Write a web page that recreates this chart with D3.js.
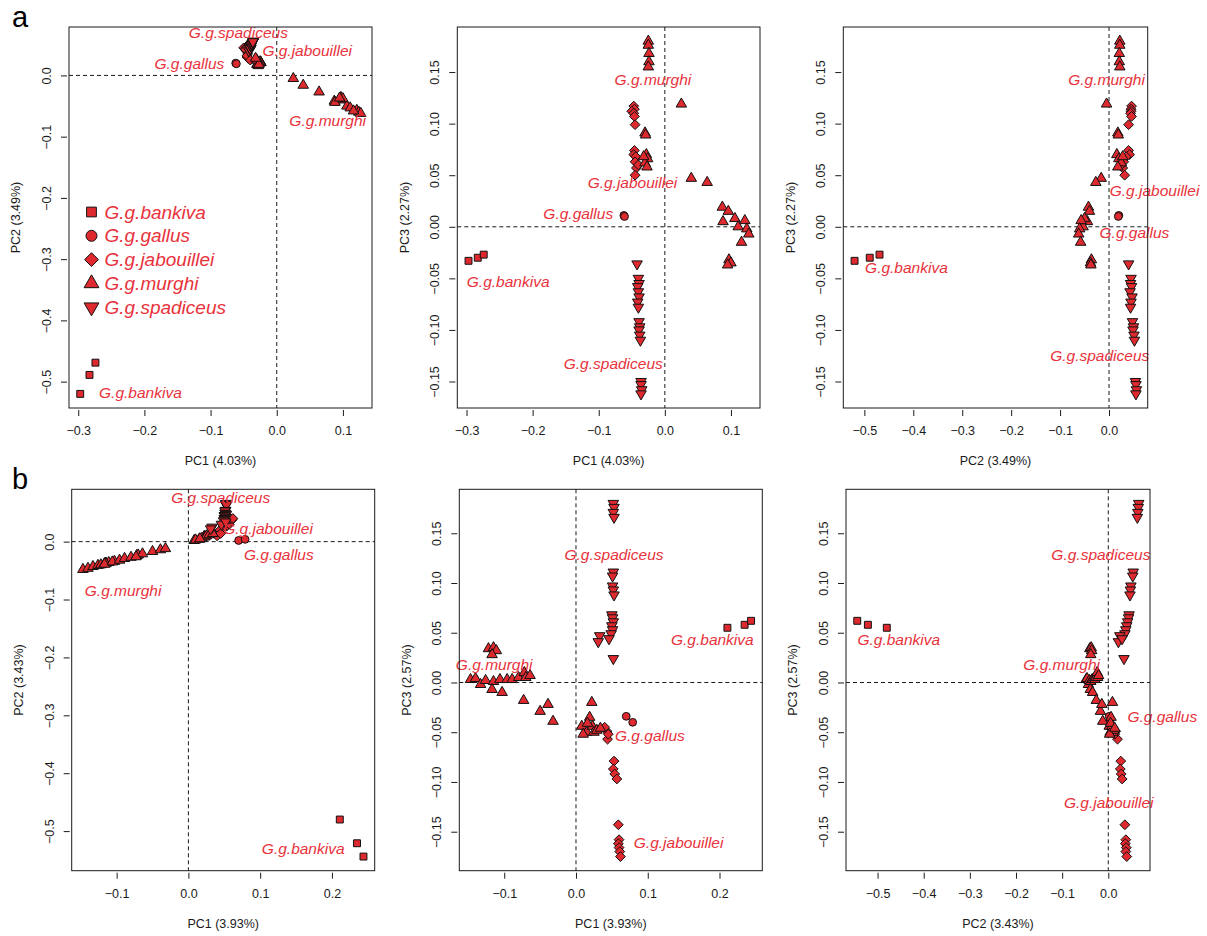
<!DOCTYPE html>
<html>
<head>
<meta charset="utf-8">
<script src="https://cdn.jsdelivr.net/npm/d3@7"></script>
<style>
  body { margin: 0; background: #fff; }
  svg { display: block; }
</style>
</head>
<body>
<svg id="fig" width="1207" height="936"></svg>
<script>
// Subspecies, in legend order, and the plotting symbol used for each
const subspecies = ["G.g.bankiva", "G.g.gallus", "G.g.jabouillei", "G.g.murghi", "G.g.spadiceus"];
const symbolNames = ["square", "circle", "diamond", "triangle", "triangleDown"];

// Analysis a: per-sample scores [PC1, PC2, PC3]
const bankivaA = [[-0.297, -0.520, -0.033], [-0.283, -0.489, -0.030], [-0.274, -0.469, -0.027]];
const gallusA = [[-0.062, 0.020, 0.011], [-0.061, 0.019, 0.010]];
const jabouilleiA = [
  [-0.047, 0.046, 0.117], [-0.046, 0.045, 0.114], [-0.050, 0.045, 0.112], [-0.047, 0.044, 0.110],
  [-0.046, 0.046, 0.107], [-0.045, 0.040, 0.099], [-0.046, 0.040, 0.074], [-0.047, 0.042, 0.070],
  [-0.044, 0.035, 0.068], [-0.045, 0.030, 0.063], [-0.043, 0.028, 0.057], [-0.045, 0.032, 0.050],
  [-0.040, 0.025, 0.060]
];
const murghiA = [
  [-0.025, 0.022, 0.180], [-0.025, 0.022, 0.176], [-0.024, 0.021, 0.168], [-0.024, 0.021, 0.160],
  [-0.025, 0.022, 0.155], [-0.030, 0.018, 0.091], [-0.029, 0.019, 0.089], [-0.028, 0.016, 0.070],
  [-0.026, 0.020, 0.066], [-0.030, 0.025, 0.062], [-0.027, 0.018, 0.058], [-0.032, 0.028, 0.068],
  [0.025, -0.005, 0.119], [0.040, -0.016, 0.047], [0.064, -0.027, 0.043],
  [0.087, -0.042, 0.019], [0.096, -0.040, 0.015], [0.088, -0.044, 0.005], [0.106, -0.050, 0.008],
  [0.111, -0.053, 0.000], [0.121, -0.057, 0.006], [0.124, -0.060, -0.002], [0.127, -0.062, -0.007],
  [0.116, -0.058, -0.015], [0.097, -0.036, -0.032], [0.100, -0.038, -0.035], [0.095, -0.037, -0.037]
];
const spadiceusA = [
  [-0.042, 0.040, -0.036], [-0.040, 0.045, -0.050], [-0.039, 0.044, -0.055], [-0.041, 0.046, -0.058],
  [-0.040, 0.043, -0.063], [-0.039, 0.047, -0.068], [-0.041, 0.045, -0.073], [-0.040, 0.044, -0.078],
  [-0.039, 0.048, -0.092], [-0.038, 0.050, -0.097], [-0.039, 0.049, -0.100], [-0.038, 0.051, -0.105],
  [-0.037, 0.052, -0.110], [-0.036, 0.054, -0.150], [-0.036, 0.055, -0.153], [-0.035, 0.056, -0.158],
  [-0.036, 0.055, -0.162]
];

// Analysis b: per-sample scores [PC1, PC2, PC3]
const bankivaB = [[0.211, -0.480, 0.055], [0.235, -0.521, 0.058], [0.244, -0.544, 0.062]];
const gallusB = [[0.070, 0.002, -0.034], [0.079, 0.004, -0.040]];
const jabouilleiB = [
  [0.043, 0.016, -0.049], [0.044, 0.020, -0.057], [0.040, 0.010, -0.045], [0.045, 0.014, -0.052],
  [0.053, 0.027, -0.079], [0.052, 0.026, -0.087], [0.054, 0.028, -0.092], [0.057, 0.030, -0.097],
  [0.059, 0.036, -0.143], [0.060, 0.038, -0.158], [0.059, 0.037, -0.162], [0.060, 0.039, -0.166],
  [0.061, 0.038, -0.170], [0.062, 0.040, -0.175]
];
const murghiB = [
  [-0.147, -0.048, 0.003], [-0.140, -0.046, 0.004], [-0.133, -0.043, -0.002], [-0.126, -0.041, 0.002],
  [-0.122, -0.040, 0.034], [-0.115, -0.037, 0.035], [-0.111, -0.036, 0.032], [-0.117, -0.038, 0.028],
  [-0.115, -0.038, 0.001], [-0.117, -0.039, -0.007], [-0.103, -0.034, -0.010], [-0.106, -0.035, 0.003],
  [-0.096, -0.032, 0.003], [-0.089, -0.029, 0.003], [-0.080, -0.027, 0.005], [-0.072, -0.024, 0.010],
  [-0.070, -0.023, 0.005], [-0.064, -0.021, 0.007], [-0.073, -0.026, -0.018], [-0.050, -0.017, -0.029],
  [-0.039, -0.014, -0.022], [-0.032, -0.012, -0.039],
  [0.022, 0.009, -0.020], [0.008, 0.002, -0.044], [0.015, 0.004, -0.050], [0.019, 0.006, -0.035],
  [0.023, 0.008, -0.044], [0.025, 0.010, -0.050], [0.029, 0.012, -0.048], [0.010, 0.003, -0.052],
  [0.016, 0.005, -0.041], [0.034, 0.014, -0.046]
];
const spadiceusB = [
  [0.052, 0.066, 0.180], [0.053, 0.065, 0.176], [0.052, 0.064, 0.171], [0.053, 0.063, 0.166],
  [0.052, 0.054, 0.111], [0.051, 0.053, 0.107], [0.051, 0.049, 0.097], [0.052, 0.048, 0.093],
  [0.053, 0.047, 0.088], [0.050, 0.045, 0.068], [0.051, 0.044, 0.065], [0.052, 0.042, 0.061],
  [0.050, 0.040, 0.057], [0.051, 0.038, 0.053], [0.049, 0.036, 0.049], [0.033, 0.025, 0.047],
  [0.031, 0.022, 0.041], [0.046, 0.030, 0.044], [0.052, 0.034, 0.024]
];

// Percentage of variance explained by PC1..PC3
const explainedA = [4.03, 3.49, 2.27];
const explainedB = [3.93, 3.43, 2.57];

// Axis tick values
const ticksPC1a = [-0.3, -0.2, -0.1, 0, 0.1];
const ticksPC2a = [-0.5, -0.4, -0.3, -0.2, -0.1, 0];
const ticksPC3a = [-0.15, -0.10, -0.05, 0, 0.05, 0.10, 0.15];
const ticksPC1b = [-0.1, 0, 0.1, 0.2];
const ticksPC2b = [-0.5, -0.4, -0.3, -0.2, -0.1, 0];
const ticksPC3b = [-0.15, -0.10, -0.05, 0, 0.05, 0.10, 0.15];

// Group label anchors in data units, one [x, y] per subspecies (legend order)
const labelsA12 = [[-0.206, -0.518], [-0.132, 0.020], [0.046, 0.040], [0.077, -0.073], [-0.058, 0.070]];
const labelsA13 = [[-0.237, -0.053], [-0.131, 0.013], [-0.049, 0.043], [-0.018, 0.143], [-0.078, -0.133]];
const labelsA23 = [[-0.414, -0.040], [0.052, -0.006], [0.093, 0.035], [-0.005, 0.143], [-0.019, -0.125]];
const labelsB12 = [[0.160, -0.530], [0.126, -0.022], [0.111, 0.022], [-0.091, -0.085], [0.045, 0.076]];
const labelsB13 = [[0.190, 0.043], [0.103, -0.053], [0.143, -0.161], [-0.114, 0.018], [0.053, 0.129]];
const labelsB23 = [[-0.454, 0.043], [0.117, -0.034], [0.001, -0.121], [-0.101, 0.018], [-0.016, 0.129]];

// ---------------------------------------------------------------------------
const analyses = {
  a: { groups: [bankivaA, gallusA, jabouilleiA, murghiA, spadiceusA], explained: explainedA,
       ticks: [ticksPC1a, ticksPC2a, ticksPC3a] },
  b: { groups: [bankivaB, gallusB, jabouilleiB, murghiB, spadiceusB], explained: explainedB,
       ticks: [ticksPC1b, ticksPC2b, ticksPC3b] }
};

const panels = [
  { set: "a", xi: 0, yi: 1, box: { l: 69, r: 372, t: 27, b: 408 }, labels: labelsA12, legend: true },
  { set: "a", xi: 0, yi: 2, box: { l: 457.3, r: 760, t: 27, b: 408 }, labels: labelsA13 },
  { set: "a", xi: 1, yi: 2, box: { l: 843.3, r: 1147.7, t: 27, b: 408 }, labels: labelsA23 },
  { set: "b", xi: 0, yi: 1, box: { l: 71.7, r: 374.7, t: 489.3, b: 870.7 }, labels: labelsB12 },
  { set: "b", xi: 0, yi: 2, box: { l: 459.3, r: 762.3, t: 489.3, b: 870.7 }, labels: labelsB13 },
  { set: "b", xi: 1, yi: 2, box: { l: 846, r: 1150, t: 489.3, b: 870.7 }, labels: labelsB23 }
];

const FONT = "'Liberation Sans', Arial, Helvetica, sans-serif";
const MARK_FILL = "#de2a2f";
const LABEL_RED = "#e8323c";
const INK = "#1a1a1a";

const svg = d3.select("#fig").style("font-family", FONT);

// Plot symbols with R-like proportions (filled square, circle, diamond, up/down triangles)
function symbolPath(type, s) {
  switch (type) {
    case "square": { const h = s * 0.8862; return `M${-h},${-h}H${h}V${h}H${-h}Z`; }
    case "circle": return `M${s},0A${s},${s} 0 1,1 ${-s},0A${s},${s} 0 1,1 ${s},0Z`;
    case "diamond": { const d = s * 1.2533; return `M0,${-d}L${d},0L0,${d}L${-d},0Z`; }
    case "triangle": { const r = 1.5551 * s, xc = 1.3468 * s, yc = 0.7776 * s;
      return `M0,${-r}L${xc},${yc}L${-xc},${yc}Z`; }
    case "triangleDown": { const r = 1.5551 * s, xc = 1.3468 * s, yc = 0.7776 * s;
      return `M0,${r}L${xc},${-yc}L${-xc},${-yc}Z`; }
  }
}

// Axis range padded by 4% on each side
function paddedExtent(values) {
  const [lo, hi] = d3.extent(values);
  const pad = (hi - lo) * 0.04;
  return [lo - pad, hi + pad];
}

const fmt1 = d3.format(".1f");
const fmt2 = d3.format(".2f");

panels.forEach(p => {
  const an = analyses[p.set];
  const all = an.groups.flat();
  const { l, r, t, b } = p.box;
  const x = d3.scaleLinear().domain(paddedExtent(all.map(d => d[p.xi]))).range([l, r]);
  const y = d3.scaleLinear().domain(paddedExtent(all.map(d => d[p.yi]))).range([b, t]);
  const xFmt = p.xi === 2 ? fmt2 : fmt1;
  const yFmt = p.yi === 2 ? fmt2 : fmt1;

  const g = svg.append("g");

  // zero reference lines
  g.append("line").attr("x1", x(0)).attr("x2", x(0)).attr("y1", t).attr("y2", b)
    .attr("stroke", INK).attr("stroke-width", 1).attr("stroke-dasharray", "4,3");
  g.append("line").attr("x1", l).attr("x2", r).attr("y1", y(0)).attr("y2", y(0))
    .attr("stroke", INK).attr("stroke-width", 1).attr("stroke-dasharray", "4,3");

  // points
  an.groups.forEach((rows, gi) => {
    g.append("g").selectAll("path").data(rows).join("path")
      .attr("transform", d => `translate(${x(d[p.xi])},${y(d[p.yi])})`)
      .attr("d", symbolPath(symbolNames[gi], 3.9))
      .attr("fill", MARK_FILL).attr("stroke", "#111").attr("stroke-width", 1);
  });

  // group labels
  g.append("g").selectAll("text").data(p.labels).join("text")
    .attr("x", d => x(d[0])).attr("y", d => y(d[1])).attr("dy", "0.35em")
    .attr("text-anchor", "middle").attr("font-style", "italic").attr("font-size", 15.5)
    .attr("fill", LABEL_RED).text((d, i) => subspecies[i]);

  // frame
  g.append("rect").attr("x", l).attr("y", t).attr("width", r - l).attr("height", b - t)
    .attr("fill", "none").attr("stroke", INK).attr("stroke-width", 1);

  // x axis
  const xa = g.append("g").attr("transform", `translate(0,${b + 2})`)
    .call(d3.axisBottom(x).tickValues(an.ticks[p.xi]).tickFormat(xFmt).tickSize(6).tickSizeOuter(0));
  xa.select(".domain").remove();
  xa.selectAll(".tick line").attr("stroke", INK);
  xa.selectAll(".tick text").attr("y", 20.5).attr("dy", "0.35em")
    .attr("font-size", 12.5).attr("font-family", FONT).attr("fill", INK);

  // y axis with labels turned parallel to the axis
  const ya = g.append("g").attr("transform", `translate(${l - 2},0)`)
    .call(d3.axisLeft(y).tickValues(an.ticks[p.yi]).tickFormat(yFmt).tickSize(6).tickSizeOuter(0));
  ya.select(".domain").remove();
  ya.selectAll(".tick line").attr("stroke", INK);
  ya.selectAll(".tick text").attr("x", 0).attr("y", 0).attr("dy", "0.35em")
    .attr("transform", "translate(-20.5,0) rotate(-90)").attr("text-anchor", "middle")
    .attr("font-size", 12.5).attr("font-family", FONT).attr("fill", INK);

  // axis titles
  g.append("text").attr("x", (l + r) / 2).attr("y", b + 53).attr("dy", "0.35em")
    .attr("text-anchor", "middle").attr("font-size", 12.5).attr("fill", INK)
    .text(`PC${p.xi + 1} (${an.explained[p.xi].toFixed(2)}%)`);
  g.append("text").attr("transform", `translate(${l - 53},${(t + b) / 2}) rotate(-90)`)
    .attr("dy", "0.35em").attr("text-anchor", "middle").attr("font-size", 12.5).attr("fill", INK)
    .text(`PC${p.yi + 1} (${an.explained[p.yi].toFixed(2)}%)`);

  // legend
  if (p.legend) {
    const lg = g.append("g").attr("transform", `translate(${l + 22.5},${t + 185})`);
    const items = lg.selectAll("g").data(subspecies).join("g")
      .attr("transform", (d, i) => `translate(0,${i * 23.8})`);
    items.append("path").attr("d", (d, i) => symbolPath(symbolNames[i], 5.5))
      .attr("fill", MARK_FILL).attr("stroke", "#111").attr("stroke-width", 1);
    items.append("text").attr("x", 13).attr("dy", "0.35em").attr("font-style", "italic")
      .attr("font-size", 19).attr("fill", LABEL_RED).text(d => d);
  }
});

// panel letters
svg.append("text").attr("x", 12).attr("y", 26.5).attr("font-size", 29).attr("fill", "#000").text("a");
svg.append("text").attr("x", 12).attr("y", 489).attr("font-size", 29).attr("fill", "#000").text("b");
</script>
</body>
</html>
